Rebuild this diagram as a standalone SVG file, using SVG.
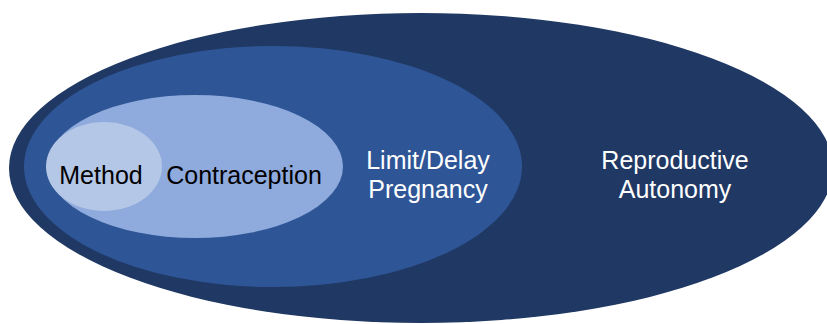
<svg xmlns="http://www.w3.org/2000/svg" width="827" height="324" viewBox="0 0 827 324">
<style>
text{font-family:"Liberation Sans",Arial,sans-serif;font-size:25px;text-anchor:middle}
.w{fill:#ffffff}.k{fill:#000000}
</style>
<rect width="827" height="324" fill="#ffffff"/>
<g id="reproductive-autonomy">
<ellipse cx="421" cy="168" rx="412" ry="155" fill="#203864"/>
<text class="w" x="675" y="169">Reproductive</text>
<text class="w" x="675" y="198">Autonomy</text>
</g>
<g id="limit-delay-pregnancy">
<ellipse cx="273" cy="166.5" rx="249" ry="120.5" fill="#2e5595"/>
<text class="w" x="428" y="169">Limit/Delay</text>
<text class="w" x="428" y="198">Pregnancy</text>
</g>
<g id="contraception">
<ellipse cx="195" cy="166.5" rx="148" ry="71.5" fill="#8faadc"/>
<text class="k" x="244" y="184">Contraception</text>
</g>
<g id="method">
<ellipse cx="104" cy="166.5" rx="58" ry="44.5" fill="#b4c7e7"/>
<text class="k" x="101" y="184">Method</text>
</g>
<g id="connectors"/>
</svg>
